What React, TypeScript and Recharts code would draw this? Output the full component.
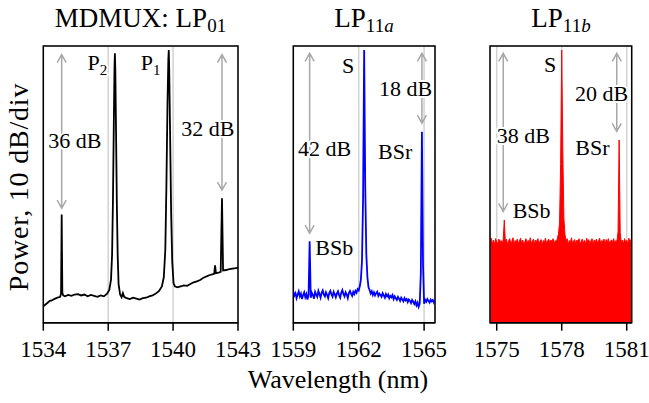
import React from "react";
import {
  ComposedChart,
  Line,
  Area,
  XAxis,
  YAxis,
  CartesianGrid,
  ReferenceLine,
  ReferenceDot,
  ReferenceArea,
} from "recharts";

const FONT = '"Liberation Serif", "Times New Roman", serif';
const ARROW = "#a8a8a8";

// power axis, 10 dB per division
const powerTicks = [-60, -50, -40, -30, -20, -10, 0];
const powerDomain: [number, number] = [-60, 0.9];

// MDMUX LP01 trace (nm / dB)
const lp01Wavelength = [
  1534.0, 1534.1, 1534.2, 1534.3, 1534.4, 1534.5, 1534.6, 1534.7, 1534.78, 1534.82,
  1534.85, 1534.88, 1534.92, 1535.0, 1535.15, 1535.3, 1535.45, 1535.6, 1535.75, 1535.9,
  1536.05, 1536.2, 1536.35, 1536.5, 1536.65, 1536.8, 1536.95, 1537.05, 1537.13, 1537.18,
  1537.22, 1537.26, 1537.29, 1537.31, 1537.33, 1537.36, 1537.4, 1537.44, 1537.48, 1537.55,
  1537.62, 1537.68, 1537.74, 1537.85, 1538.0, 1538.15, 1538.3, 1538.45, 1538.6, 1538.75,
  1538.9, 1539.05, 1539.2, 1539.35, 1539.48, 1539.57, 1539.64, 1539.69, 1539.74, 1539.78,
  1539.8, 1539.82, 1539.86, 1539.91, 1539.96, 1540.02, 1540.08, 1540.2, 1540.35, 1540.5,
  1540.65, 1540.8, 1540.95, 1541.1, 1541.25, 1541.4, 1541.55, 1541.7, 1541.85, 1541.9,
  1541.94, 1541.98, 1542.1, 1542.2, 1542.26, 1542.31, 1542.45, 1542.6, 1542.75, 1542.9,
  1543.0,
];
const lp01Power = [
  -56.4, -56.0, -55.6, -55.2, -55.1, -54.8, -54.6, -54.4, -54.3, -53.6,
  -36.2, -53.4, -54.0, -54.2, -53.9, -54.1, -53.8, -53.7, -54.0, -53.8,
  -54.2, -53.9, -54.1, -54.3, -54.0, -54.2, -53.6, -52.8, -50.5, -45.0,
  -33.0, -16.0, -4.0, -0.7, -4.5, -17.0, -34.0, -45.5, -51.5, -53.8,
  -54.4, -53.5, -54.3, -54.6, -54.8, -54.5, -54.7, -54.9, -54.6, -54.5,
  -54.2, -54.0, -53.6, -53.0, -52.0, -50.0, -44.0, -30.0, -12.0, -2.0,
  0.0, -4.0, -18.0, -36.0, -46.5, -51.3, -52.0, -52.2, -52.0, -51.8,
  -51.9, -51.5, -51.1, -50.9, -50.6, -50.1, -49.8, -49.5, -49.3, -49.2,
  -47.4, -49.1, -49.0, -48.8, -32.6, -48.5, -48.4, -48.2, -48.1, -48.0,
  -47.9,
];

// LP11a trace, OSA samples every 0.05 nm from 1559.00 nm
const lp11aStart = 1559.0;
const lp11aStep = 0.05;
const lp11aPower = [
  -53.2, -54.0, -53.5, -54.6, -53.8, -53.1, -54.2, -53.6, -54.8, -53.9,
  -53.3, -54.4, -53.7, -54.9, -53.8, -42.1, -54.5, -53.4, -53.9, -54.7,
  -53.2, -53.8, -54.3, -53.0, -53.7, -54.5, -53.4, -52.9, -53.8, -54.2,
  -53.3, -53.9, -54.6, -53.5, -53.0, -53.8, -54.3, -53.2, -53.7, -54.4,
  -53.6, -53.1, -53.9, -54.5, -53.4, -52.8, -53.7, -54.2, -53.3, -53.8,
  -54.6, -53.5, -53.0, -53.6, -54.1, -53.2, -53.7, -53.0, -53.4, -52.6,
  -52.9, -52.0, -50.5, -46.5, -33.0, 0.0, -30.0, -45.0, -50.0, -52.2,
  -52.8, -53.6, -53.1, -53.9, -53.3, -54.0, -53.5, -53.2, -54.1, -53.6,
  -53.9, -54.3, -53.5, -54.0, -54.5, -53.7, -54.2, -53.8, -54.6, -54.1,
  -54.4, -53.9, -54.8, -54.2, -54.6, -55.0, -54.3, -54.7, -55.2, -54.5,
  -54.9, -55.3, -54.6, -55.1, -54.8, -55.5, -54.9, -55.2, -55.7, -55.0,
  -55.4, -55.9, -55.3, -56.2, -55.6, -56.5, -55.8, -49.0, -18.0, -47.0,
  -55.8, -55.0, -55.4, -54.8, -55.2, -55.6, -54.9, -55.3, -55.0, -55.6,
  -55.2,
];

// LP11b trace, OSA samples every 0.05 nm from 1574.70 nm
const lp11bStart = 1574.7;
const lp11bStep = 0.05;
const lp11bPower = [
  -42.0, -41.4, -42.6, -41.8, -42.9, -41.5, -42.2, -42.7, -41.6, -42.3,
  -41.9, -42.8, -41.7, -37.4, -42.4, -41.6, -42.9, -42.0, -41.5, -42.6,
  -42.1, -41.3, -42.8, -41.9, -42.3, -41.6, -42.7, -42.0, -41.4, -42.5,
  -41.8, -42.9, -42.2, -41.5, -42.6, -41.9, -42.4, -41.3, -42.7, -42.0,
  -41.6, -42.8, -41.8, -42.3, -41.5, -42.6, -42.1, -41.7, -42.9, -41.9,
  -42.4, -41.4, -42.6, -42.0, -41.6, -42.5, -41.8, -42.2, -41.5, -42.7,
  -41.9, -42.3, -41.4, -40.5, -38.0, -25.0, 0.0, -22.0, -37.0, -40.5,
  -42.2, -41.5, -42.8, -41.9, -42.4, -41.3, -42.6, -42.0, -41.7, -42.9,
  -41.8, -42.3, -41.5, -42.7, -42.1, -41.6, -42.5, -41.9, -42.8, -41.4,
  -42.2, -41.7, -42.6, -42.0, -41.5, -42.9, -41.8, -42.3, -41.6, -42.5,
  -42.0, -41.4, -42.7, -41.9, -42.2, -41.6, -42.8, -41.7, -42.4, -41.5,
  -42.6, -42.0, -41.8, -42.3, -41.5, -42.7, -41.9, -42.1, -40.0, -19.8,
  -40.2, -42.4, -41.8, -42.7, -41.5, -42.2, -41.9, -42.6, -41.4, -42.3,
  -41.7, -42.0,
];

const lp01Ticks = [1534, 1537, 1540, 1543];
const lp11aTicks = [1559, 1562, 1565];
const lp11bTicks = [1575, 1578, 1581];

type Arrow = { x: number; top: number; bottom: number };
type Note = { x: number; y: number; text: string; sub?: string };

const lp01Arrows: Arrow[] = [
  { x: 1534.85, top: -1.0, bottom: -34.8 },
  { x: 1542.26, top: -1.0, bottom: -30.8 },
];
const lp01Notes: Note[] = [
  { x: 1535.46, y: -21.6, text: "36 dB" },
  { x: 1541.61, y: -19.0, text: "32 dB" },
  { x: 1536.5, y: -4.3, text: "P", sub: "2" },
  { x: 1538.96, y: -4.3, text: "P", sub: "1" },
];
const lp11aArrows: Arrow[] = [
  { x: 1559.75, top: -0.7, bottom: -40.3 },
  { x: 1564.9, top: -0.7, bottom: -16.1 },
];
const lp11aNotes: Note[] = [
  { x: 1561.52, y: -5.1, text: "S" },
  { x: 1560.43, y: -23.4, text: "42 dB" },
  { x: 1564.15, y: -10.2, text: "18 dB" },
  { x: 1563.67, y: -24.0, text: "BSr" },
  { x: 1560.88, y: -45.1, text: "BSb" },
];
const lp11bArrows: Arrow[] = [
  { x: 1575.3, top: -0.7, bottom: -35.5 },
  { x: 1580.54, top: -0.7, bottom: -17.9 },
];
const lp11bNotes: Note[] = [
  { x: 1577.46, y: -4.9, text: "S" },
  { x: 1579.84, y: -11.3, text: "20 dB" },
  { x: 1576.23, y: -20.5, text: "38 dB" },
  { x: 1579.42, y: -23.1, text: "BSr" },
  { x: 1576.61, y: -37.0, text: "BSb" },
];

const lp01Data = lp01Wavelength.map((wl, i) => ({ wl, p: lp01Power[i] }));
const lp11aData = lp11aPower.map((p, i) => ({ wl: +(lp11aStart + i * lp11aStep).toFixed(2), p }));
const lp11bData = lp11bPower.map((p, i) => ({ wl: +(lp11bStart + i * lp11bStep).toFixed(2), p }));

const ArrowShape = (props: any) => {
  const { x1, y1, y2 } = props;
  const top = Math.min(y1, y2);
  const bot = Math.max(y1, y2);
  const x = x1;
  const d =
    `M${x},${top}L${x},${bot}` +
    `M${x - 4.5},${top + 8}L${x},${top}L${x + 4.5},${top + 8}` +
    `M${x - 4.5},${bot - 8}L${x},${bot}L${x + 4.5},${bot - 8}`;
  return <path d={d} stroke={ARROW} strokeWidth={1.5} fill="none" />;
};

const noteShape = (n: Note) => (props: any) => (
  <text
    x={props.cx}
    y={props.cy}
    textAnchor="middle"
    fontFamily={FONT}
    fontSize={22}
    fill="#000"
    stroke="#fff"
    strokeWidth={4}
    strokeLinejoin="round"
    paintOrder="stroke"
  >
    {n.text}
    {n.sub && (
      <tspan fontSize={15} dy={5}>
        {n.sub}
      </tspan>
    )}
  </text>
);

interface PanelProps {
  data: { wl: number; p: number }[];
  domain: [number, number];
  ticks: number[];
  color: string;
  filled?: boolean;
  plotLeft: number;
  plotRight: number;
  yTicks?: boolean;
  arrows: Arrow[];
  notes: Note[];
}

const Panel: React.FC<PanelProps> = ({
  data, domain, ticks, color, filled, plotLeft, plotRight, yTicks, arrows, notes,
}) => (
  <div style={{ position: "absolute", left: 0, top: 0 }}>
    <ComposedChart
      width={649}
      height={403}
      data={data}
      margin={{ top: 46, right: 649 - plotRight, bottom: 50.3, left: plotLeft }}
    >
      <CartesianGrid stroke="#d2d2d2" strokeWidth={1.5} />
      <XAxis
        type="number"
        dataKey="wl"
        domain={domain}
        ticks={ticks}
        interval={0}
        allowDataOverflow
        height={30}
        tickSize={8}
        tickMargin={10}
        axisLine={{ stroke: "#000", strokeWidth: 1.5 }}
        tickLine={{ stroke: "#000", strokeWidth: 1.5 }}
        tick={{ fontSize: 23, fill: "#000", fontFamily: FONT }}
      />
      <YAxis
        type="number"
        domain={powerDomain}
        ticks={powerTicks}
        allowDataOverflow
        width={0}
        tick={false}
        tickSize={8}
        tickLine={yTicks ? { stroke: "#000", strokeWidth: 1.5 } : false}
        axisLine={{ stroke: "#000", strokeWidth: 1.5 }}
      />
      {filled ? (
        <Area
          type="linear"
          dataKey="p"
          stroke={color}
          strokeWidth={1}
          fill={color}
          fillOpacity={1}
          baseValue="dataMin"
          dot={false}
          isAnimationActive={false}
        />
      ) : (
        <Line
          type="linear"
          dataKey="p"
          stroke={color}
          strokeWidth={1.8}
          dot={false}
          isAnimationActive={false}
        />
      )}
      <ReferenceArea
        x1={domain[0]}
        x2={domain[1]}
        y1={powerDomain[0]}
        y2={powerDomain[1]}
        fill="none"
        stroke="#000"
        strokeWidth={1.5}
        ifOverflow="visible"
      />
      {arrows.map((a, i) => (
        <ReferenceLine
          key={`a${i}`}
          segment={[
            { x: a.x, y: a.top },
            { x: a.x, y: a.bottom },
          ]}
          stroke={ARROW}
          shape={ArrowShape}
        />
      ))}
      {notes.map((n, i) => (
        <ReferenceDot key={`n${i}`} x={n.x} y={n.y} r={1} shape={noteShape(n)} />
      ))}
    </ComposedChart>
  </div>
);

const titleStyle: React.CSSProperties = {
  position: "absolute",
  top: 5,
  transform: "translateX(-50%)",
  fontFamily: FONT,
  fontSize: 27,
  lineHeight: 1,
  whiteSpace: "nowrap",
  color: "#000",
};
const subStyle: React.CSSProperties = { fontSize: 19, position: "relative", top: 5 };

export default function App() {
  return (
    <div
      style={{
        position: "absolute",
        left: 0,
        top: 0,
        width: 649,
        height: 403,
        background: "#fff",
        overflow: "hidden",
      }}
    >
      <Panel
        data={lp01Data}
        domain={[1534, 1543]}
        ticks={lp01Ticks}
        color="#000000"
        plotLeft={43.3}
        plotRight={238}
        yTicks
        arrows={lp01Arrows}
        notes={lp01Notes}
      />
      <Panel
        data={lp11aData}
        domain={[1559, 1565.5]}
        ticks={lp11aTicks}
        color="#0000ff"
        plotLeft={293.3}
        plotRight={435}
        arrows={lp11aArrows}
        notes={lp11aNotes}
      />
      <Panel
        data={lp11bData}
        domain={[1574.69, 1581.23]}
        ticks={lp11bTicks}
        color="#ff0000"
        filled
        plotLeft={490}
        plotRight={631.7}
        arrows={lp11bArrows}
        notes={lp11bNotes}
      />
      <div style={{ ...titleStyle, left: 140.5 }}>
        MDMUX: LP<span style={subStyle}>01</span>
      </div>
      <div style={{ ...titleStyle, left: 364 }}>
        LP<span style={subStyle}>11<i>a</i></span>
      </div>
      <div style={{ ...titleStyle, left: 561 }}>
        LP<span style={subStyle}>11<i>b</i></span>
      </div>
      <div
        style={{
          position: "absolute",
          left: 19,
          top: 187,
          transform: "translate(-50%, -50%) rotate(-90deg)",
          fontFamily: FONT,
          fontSize: 28,
          letterSpacing: 0.8,
          lineHeight: 1,
          whiteSpace: "nowrap",
        }}
      >
        Power, 10 dB/div
      </div>
      <div
        style={{
          position: "absolute",
          left: 338,
          top: 367,
          transform: "translateX(-50%)",
          fontFamily: FONT,
          fontSize: 26,
          lineHeight: 1,
          whiteSpace: "nowrap",
        }}
      >
        Wavelength (nm)
      </div>
    </div>
  );
}
